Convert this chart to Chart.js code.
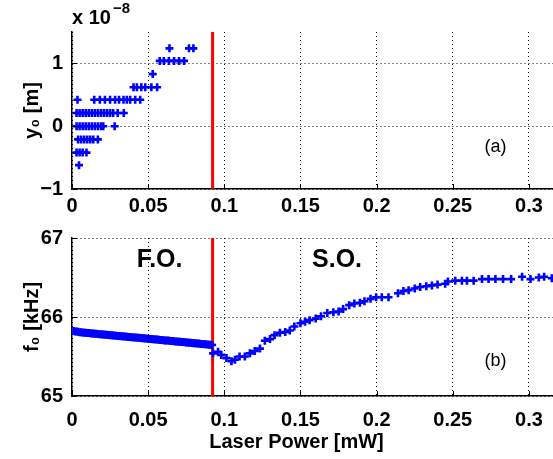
<!DOCTYPE html>
<html>
<head>
<meta charset="utf-8">
<script src="https://cdn.jsdelivr.net/npm/chart.js@4"></script>
<style>
  body { margin: 0; background: #fff; overflow: hidden; }
  canvas { position: absolute; left: 0; }
  #top { top: 0; }
  #bottom { top: 225px; }
</style>
</head>
<body>
<canvas id="top" width="553" height="225"></canvas>
<canvas id="bottom" width="553" height="234"></canvas>
<script>
// transition between first order (F.O.) and second order (S.O.) regime
var threshold = 0.0923;

// x ticks, shared
var xTicks = [0, 0.05, 0.1, 0.15, 0.2, 0.25, 0.3];
var xTickLabels = ['0', '0.05', '0.1', '0.15', '0.2', '0.25', '0.3'];

// (a) y0 [x 1e-8 m]
var y0Ticks = [-1, 0, 1];
var y0TickLabels = ['\u22121', '0', '1'];
var y0Power = [
    0.064, 0.0768, 0.0797,
    0.0576, 0.0603, 0.0636, 0.067, 0.0703, 0.0736,
    0.053,
    0.0404, 0.0426, 0.0455, 0.0481, 0.0521, 0.0559,
    0.0036, 0.0146, 0.0183, 0.0216, 0.025, 0.0283, 0.0309, 0.0338, 0.036, 0.0382, 0.0415, 0.0448,
    0.003, 0.005, 0.007, 0.009, 0.011, 0.013, 0.015, 0.017, 0.019, 0.021, 0.023, 0.025, 0.027, 0.030, 0.034,
    0.003, 0.005, 0.007, 0.009, 0.011, 0.013, 0.015, 0.017, 0.019, 0.0205, 0.028,
    0.004, 0.006, 0.008, 0.010, 0.012, 0.014, 0.017,
    0.003, 0.005, 0.007, 0.0095,
    0.0046
];
var y0Value = [
    1.24, 1.24, 1.24,
    1.04, 1.04, 1.04, 1.04, 1.04, 1.04,
    0.83,
    0.62, 0.62, 0.62, 0.62, 0.62, 0.62,
    0.42, 0.42, 0.42, 0.42, 0.42, 0.42, 0.42, 0.42, 0.42, 0.42, 0.42, 0.42,
    0.21, 0.21, 0.21, 0.21, 0.21, 0.21, 0.21, 0.21, 0.21, 0.21, 0.21, 0.21, 0.21, 0.21, 0.21,
    0, 0, 0, 0, 0, 0, 0, 0, 0, 0, 0,
    -0.21, -0.21, -0.21, -0.21, -0.21, -0.21, -0.21,
    -0.42, -0.42, -0.42, -0.42,
    -0.62
];

// (b) f0 [kHz]
var f0Ticks = [65, 66, 67];
var f0TickLabels = ['65', '66', '67'];
var foPower = [
    0.001, 0.002, 0.003, 0.004, 0.005, 0.006, 0.007, 0.008, 0.009, 0.010,
    0.011, 0.012, 0.013, 0.014, 0.015, 0.016, 0.017, 0.018, 0.019, 0.020,
    0.021, 0.022, 0.023, 0.024, 0.025, 0.026, 0.027, 0.028, 0.029, 0.030,
    0.031, 0.032, 0.033, 0.034, 0.035, 0.036, 0.037, 0.038, 0.039, 0.040,
    0.041, 0.042, 0.043, 0.044, 0.045, 0.046, 0.047, 0.048, 0.049, 0.050,
    0.051, 0.052, 0.053, 0.054, 0.055, 0.056, 0.057, 0.058, 0.059, 0.060,
    0.061, 0.062, 0.063, 0.064, 0.065, 0.066, 0.067, 0.068, 0.069, 0.070,
    0.071, 0.072, 0.073, 0.074, 0.075, 0.076, 0.077, 0.078, 0.079, 0.080,
    0.081, 0.082, 0.083, 0.084, 0.085, 0.086, 0.087, 0.088, 0.089, 0.090,
    0.091, 0.092
];
var foFreq = [
    65.822, 65.818, 65.816, 65.812, 65.808, 65.806, 65.804, 65.802, 65.800, 65.798,
    65.796, 65.794, 65.792, 65.790, 65.789, 65.787, 65.785, 65.783, 65.781, 65.779,
    65.777, 65.776, 65.774, 65.772, 65.770, 65.768, 65.766, 65.765, 65.763, 65.761,
    65.759, 65.757, 65.755, 65.754, 65.752, 65.750, 65.748, 65.746, 65.745, 65.743,
    65.741, 65.739, 65.737, 65.736, 65.734, 65.732, 65.730, 65.728, 65.727, 65.725,
    65.723, 65.721, 65.719, 65.718, 65.716, 65.714, 65.712, 65.710, 65.708, 65.706,
    65.704, 65.703, 65.701, 65.699, 65.697, 65.695, 65.693, 65.691, 65.689, 65.688,
    65.686, 65.684, 65.682, 65.680, 65.678, 65.676, 65.674, 65.673, 65.671, 65.669,
    65.667, 65.665, 65.663, 65.661, 65.659, 65.658, 65.656, 65.654, 65.652, 65.650,
    65.648, 65.646
];
var soPower = [
    0.0926, 0.0959, 0.098, 0.1014, 0.1047, 0.107, 0.110, 0.1135, 0.1168, 0.120,
    0.1234, 0.1266, 0.130, 0.133, 0.1365, 0.140, 0.143, 0.146, 0.150, 0.153,
    0.156, 0.160, 0.1635, 0.1676, 0.1716, 0.175, 0.178, 0.182, 0.1854, 0.189,
    0.192, 0.196, 0.1997, 0.2034, 0.2078, 0.214, 0.2176, 0.221, 0.225, 0.2286,
    0.2326, 0.2363, 0.240, 0.245, 0.2468, 0.2516, 0.256, 0.2593, 0.2637, 0.2692,
    0.2735, 0.278, 0.283, 0.2883, 0.2955, 0.301, 0.3065, 0.310, 0.315
];
var soFreq = [
    65.54, 65.56, 65.52, 65.48, 65.44, 65.46, 65.50, 65.50, 65.54, 65.57,
    65.60, 65.70, 65.72, 65.77, 65.80, 65.81, 65.83, 65.88, 65.92, 65.94,
    65.96, 65.98, 66.01, 66.05, 66.06, 66.07, 66.10, 66.15, 66.17, 66.18,
    66.20, 66.23, 66.25, 66.25, 66.25, 66.30, 66.33, 66.34, 66.36, 66.38,
    66.39, 66.40, 66.41, 66.42, 66.45, 66.46, 66.46, 66.46, 66.46, 66.48,
    66.48, 66.48, 66.48, 66.48, 66.51, 66.48, 66.50, 66.51, 66.49
];

var FONT = '"Liberation Sans", Arial, Helvetica, sans-serif';
var BLUE = '#0000ff';
var RED = '#ff0000';

function points(xs, ys) {
    return xs.map(function(x, i) { return {x: x, y: ys[i]}; });
}

// small ticks drawn inwards, like matlab does
var innerTicks = {
    id: 'innerTicks',
    afterDatasetsDraw: function(chart) {
        var ctx = chart.ctx, a = chart.chartArea;
        var x = chart.scales.x, y = chart.scales.y;
        ctx.save();
        ctx.strokeStyle = '#000';
        ctx.lineWidth = 1;
        ctx.beginPath();
        x.ticks.forEach(function(t) {
            var px = Math.round(x.getPixelForValue(t.value)) + 0.5;
            ctx.moveTo(px, a.bottom);
            ctx.lineTo(px, a.bottom - 5);
        });
        y.ticks.forEach(function(t) {
            var py = Math.round(y.getPixelForValue(t.value)) + 0.5;
            ctx.moveTo(a.left, py);
            ctx.lineTo(a.left + 5, py);
        });
        ctx.stroke();
        ctx.restore();
    }
};

// free text labels, either in data or in pixel coordinates
var notes = {
    id: 'notes',
    afterDraw: function(chart, args, opts) {
        var ctx = chart.ctx, x = chart.scales.x, y = chart.scales.y;
        (opts.items || []).forEach(function(n) {
            ctx.save();
            ctx.font = n.font;
            ctx.fillStyle = '#000';
            ctx.textAlign = n.align || 'center';
            ctx.textBaseline = 'alphabetic';
            var px = n.px != null ? n.px : x.getPixelForValue(n.x);
            var py = n.py != null ? n.py : y.getPixelForValue(n.y);
            ctx.fillText(n.text, px, py);
            ctx.restore();
        });
    }
};

function xScale(height, pad) {
    return {
        type: 'linear',
        min: 0,
        max: 0.3158,
        afterBuildTicks: function(s) { s.ticks = xTicks.map(function(v) { return {value: v}; }); },
        afterFit: function(s) {
            s.height = height;
            s.paddingLeft = 0;
            s.paddingRight = 0;
        },
        ticks: {
            color: '#000',
            padding: pad,
            font: {family: FONT, size: 20, weight: 'bold'},
            callback: function(v) { return xTickLabels[xTicks.indexOf(v)]; }
        },
        grid: {color: '#000', lineWidth: 1, drawTicks: false},
        border: {display: true, color: '#000', width: 1.5, dash: [1, 3]}
    };
}

function yScale(min, max, ticks, labels, title) {
    return {
        type: 'linear',
        min: min,
        max: max,
        afterBuildTicks: function(s) { s.ticks = ticks.map(function(v) { return {value: v}; }); },
        afterFit: function(s) {
            s.width = 72;
            s.paddingTop = 0;
            s.paddingBottom = 0;
        },
        ticks: {
            color: '#000',
            padding: 9,
            font: {family: FONT, size: 20, weight: 'bold'},
            callback: function(v) { return labels[ticks.indexOf(v)]; }
        },
        title: {
            display: true,
            text: title,
            color: '#000',
            font: {family: FONT, size: 20, weight: 'bold'},
            padding: {top: 20, bottom: 0}
        },
        grid: {color: '#000', lineWidth: 1, drawTicks: false},
        border: {display: true, color: '#000', width: 1.5, dash: [1, 3]}
    };
}

function crosses(data) {
    return {
        type: 'scatter',
        data: data,
        pointStyle: 'cross',
        pointRadius: 4,
        pointBorderWidth: 2.6,
        borderColor: BLUE,
        backgroundColor: BLUE
    };
}

function redLine(lo, hi) {
    return {
        type: 'line',
        data: [{x: threshold, y: lo}, {x: threshold, y: hi}],
        borderColor: RED,
        borderWidth: 3,
        pointRadius: 0
    };
}

var topChart = new Chart(document.getElementById('top'), {
    type: 'scatter',
    data: {
        datasets: [crosses(points(y0Power, y0Value)), redLine(-1, 1.5)]
    },
    options: {
        responsive: false,
        animation: false,
        layout: {autoPadding: false, padding: {top: 32, left: 0, right: 0, bottom: 0}},
        scales: {
            x: xScale(36, 5),
            y: yScale(-1, 1.5, y0Ticks, y0TickLabels, 'y\u2080 [m]')
        },
        plugins: {
            legend: {display: false},
            tooltip: {enabled: false},
            notes: {items: [
                {text: 'x 10', px: 72, py: 24, align: 'left', font: 'bold 20px ' + FONT},
                {text: '\u22128', px: 113, py: 13, align: 'left', font: 'bold 15px ' + FONT},
                {text: '(a)', x: 0.278, y: -0.41, font: '18px ' + FONT}
            ]}
        }
    },
    plugins: [innerTicks, notes]
});

var bottomChart = new Chart(document.getElementById('bottom'), {
    type: 'scatter',
    data: {
        datasets: [
            crosses(points(foPower, foFreq)),
            crosses(points(soPower, soFreq)),
            redLine(65, 67)
        ]
    },
    options: {
        responsive: false,
        animation: false,
        layout: {autoPadding: false, padding: {top: 13, left: 0, right: 0, bottom: 0}},
        scales: {
            x: xScale(63, 12),
            y: yScale(65, 67, f0Ticks, f0TickLabels, 'f\u2080 [kHz]')
        },
        plugins: {
            legend: {display: false},
            tooltip: {enabled: false},
            notes: {items: [
                {text: 'F.O.', x: 0.0575, y: 66.635, font: 'bold 25px ' + FONT},
                {text: 'S.O.', x: 0.174, y: 66.635, font: 'bold 25px ' + FONT},
                {text: '(b)', x: 0.278, y: 65.38, font: '18px ' + FONT},
                {text: 'Laser Power [mW]', x: 0.1474, py: 223, font: 'bold 20px ' + FONT}
            ]}
        }
    },
    plugins: [innerTicks, notes]
});
</script>
</body>
</html>
